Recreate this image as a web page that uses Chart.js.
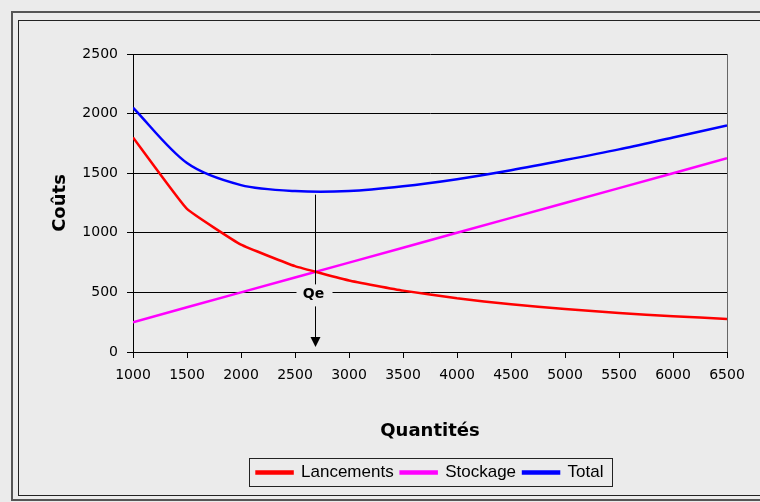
<!DOCTYPE html>
<html>
<head>
<meta charset="utf-8">
<script src="https://cdn.jsdelivr.net/npm/chart.js@4/dist/chart.umd.min.js"></script>
<style>
  html, body { margin: 0; padding: 0; background: #ebebeb; }
  #wrap { position: relative; width: 760px; height: 502px; }
</style>
</head>
<body>
<div id="wrap"><canvas id="myChart" width="760" height="502"></canvas></div>
<script>
const ctx = document.getElementById('myChart').getContext('2d');

// quantities (x) and costs
const quantites = [1000, 1500, 2000, 2500, 3000, 3500, 4000, 4500, 5000, 5500, 6000, 6500]
const lancements = [1800, 1200, 900, 720, 600, 515, 450, 400, 360, 327, 300, 277]
const stockage = [250, 375, 500, 625, 750, 875, 1000, 1125, 1250, 1375, 1500, 1625]
const total = [2050, 1585, 1400, 1350, 1350, 1390, 1450, 1525, 1610, 1700, 1800, 1900]
const yTicks = [0, 500, 1000, 1500, 2000, 2500]
const qe = 2683      // optimal quantity
const qeTop = 1320   // where the Qe marker starts (just under Total)
const qeLabel = 500  // label sits on the 500 grid line

const toPoints = (ys) => quantites.map((q, i) => ({x: q, y: ys[i]}))

const font = '"Liberation Sans", Arial, sans-serif'
const wide = '"DejaVu Sans", sans-serif'

// frame, Qe marker and legend box
const decor = {
    id: 'decor',
    beforeDraw(chart) {
        const c = chart.ctx
        c.save()
        c.fillStyle = '#ebebeb'
        c.fillRect(0, 0, chart.width, chart.height)
        c.strokeStyle = '#555'
        c.lineWidth = 2
        c.strokeRect(12, 12, 760, 488)
        c.strokeStyle = '#222'
        c.lineWidth = 1
        c.strokeRect(18.5, 20.5, 760, 475)
        c.restore()
    },
    afterDatasetsDraw(chart) {
        const c = chart.ctx
        const xs = chart.scales.x, ys = chart.scales.y
        const a = chart.chartArea
        c.save()
        // right border of plot area
        c.strokeStyle = '#666'
        c.lineWidth = 1
        c.beginPath()
        c.moveTo(a.right + 0.5, a.top)
        c.lineTo(a.right + 0.5, a.bottom)
        c.stroke()

        const x = Math.round(xs.getPixelForValue(qe)) + 0.5
        const yTop = ys.getPixelForValue(qeTop)
        const yLab = ys.getPixelForValue(qeLabel)
        const yBot = ys.getPixelForValue(0)
        // clear gridline behind the label
        c.fillStyle = '#ebebeb'
        c.fillRect(x - 19, yLab - 8, 36, 16)
        c.strokeStyle = '#000'
        c.beginPath()
        c.moveTo(x, yTop)
        c.lineTo(x, yLab - 8)
        c.moveTo(x, yLab + 14)
        c.lineTo(x, yBot - 14)
        c.stroke()
        c.fillStyle = '#000'
        c.beginPath()
        c.moveTo(x - 5, yBot - 15)
        c.lineTo(x + 5, yBot - 15)
        c.lineTo(x, yBot - 5)
        c.closePath()
        c.fill()
        c.font = 'bold 14px ' + wide
        c.textAlign = 'center'
        c.textBaseline = 'middle'
        c.fillText('Qe', x - 2, yLab + 2)
        c.restore()
    },
    afterDraw(chart) {
        const lg = chart.legend
        const hb = lg.legendHitBoxes
        if (!hb || !hb.length) return
        const c = chart.ctx
        const left = hb[0].left - 8
        const right = hb[hb.length - 1].left + hb[hb.length - 1].width + 8
        const mid = hb[0].top + hb[0].height / 2
        c.save()
        c.strokeStyle = '#222'
        c.lineWidth = 1
        c.strokeRect(Math.round(left) + 0.5, Math.round(mid - 15) + 0.5, Math.round(right - left), 28)
        c.restore()
    }
}

const myChart = new Chart(ctx, {
    type: 'line',
    data: {
        datasets: [{
            label: 'Lancements',
            data: toPoints(lancements),
            borderColor: '#ff0000',
            backgroundColor: '#ff0000',
            borderWidth: 2.5,
            pointRadius: 0,
            tension: 0.1
        }, {
            label: 'Stockage',
            data: toPoints(stockage),
            borderColor: '#ff00ff',
            backgroundColor: '#ff00ff',
            borderWidth: 2.5,
            pointRadius: 0,
            tension: 0
        }, {
            label: 'Total',
            data: toPoints(total),
            borderColor: '#0000ff',
            backgroundColor: '#0000ff',
            borderWidth: 2.5,
            pointRadius: 0,
            tension: 0.3
        }]
    },
    options: {
        responsive: false,
        animation: false,
        layout: { padding: { left: 50, top: 54, right: 33, bottom: 11 } },
        plugins: {
            tooltip: { enabled: false },
            legend: {
                position: 'bottom',
                fullSize: false,
                labels: {
                    color: '#000',
                    font: { family: font, size: 17 },
                    boxWidth: 36,
                    boxHeight: 2,
                    padding: 7
                }
            }
        },
        scales: {
            x: {
                type: 'linear',
                min: 1000,
                max: 6500,
                afterBuildTicks: (s) => { s.ticks = quantites.map(v => ({value: v})) },
                afterFit: (s) => { s.height = 105 },
                ticks: {
                    color: '#000', font: { family: wide, size: 14 }, padding: 9, maxRotation: 0,
                    callback: (v) => String(v)
                },
                grid: { drawOnChartArea: false, drawTicks: true, tickLength: 6, color: '#000' },
                border: { color: '#000', width: 1 },
                title: {
                    display: true,
                    text: 'Quantités',
                    color: '#000',
                    font: { family: wide, size: 18, weight: 'bold' },
                    padding: { top: 0, bottom: 15 }
                }
            },
            y: {
                min: 0,
                max: 2500,
                afterBuildTicks: (s) => { s.ticks = yTicks.map(v => ({value: v})) },
                afterFit: (s) => { s.width = 83 },
                ticks: {
                    color: '#000', font: { family: wide, size: 14 }, padding: 9,
                    callback: (v) => String(v)
                },
                grid: { color: '#000', drawTicks: true, tickLength: 6 },
                border: { color: '#000', width: 1 },
                title: {
                    display: true,
                    text: 'Coûts',
                    color: '#000',
                    font: { family: wide, size: 18, weight: 'bold' },
                    padding: 0
                }
            }
        }
    },
    plugins: [decor]
});
</script>
</body>
</html>
